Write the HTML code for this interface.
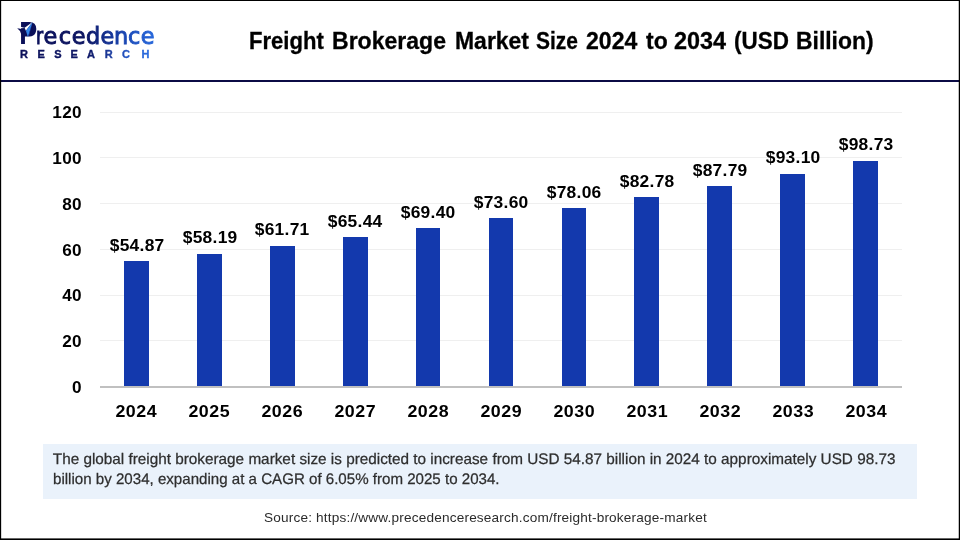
<!DOCTYPE html>
<html><head><meta charset="utf-8"><title>Freight Brokerage Market Size 2024 to 2034</title>
<style>
html,body{margin:0;padding:0;background:#fff;}
body{width:960px;height:540px;position:relative;overflow:hidden;font-family:"Liberation Sans",sans-serif;color:#000;}
.abs{position:absolute;}
.bt{position:absolute;left:0;top:0;width:960px;height:1px;background:#000;}
.bl{position:absolute;left:0;top:0;width:1px;height:540px;background:#000;}
.bl2{position:absolute;left:1px;top:0;width:1px;height:540px;background:rgba(0,0,0,.15);}
.br{position:absolute;left:959px;top:0;width:1px;height:540px;background:#000;}
.br2{position:absolute;left:958px;top:0;width:1px;height:540px;background:rgba(0,0,0,.25);}
.bb{position:absolute;left:0;top:539px;width:960px;height:1px;background:#000;}
.bb2{position:absolute;left:0;top:538px;width:960px;height:1px;background:rgba(0,0,0,.6);}
.hr{position:absolute;left:0;top:80px;width:960px;height:2px;background:#0b0b45;}
.tw{position:absolute;white-space:nowrap;font-weight:bold;-webkit-text-stroke:0.3px #000;font-size:23.2px;line-height:30px;height:30px;transform-origin:0 50%;}
.grid{position:absolute;left:100px;width:802px;height:1px;background:#efefef;}
.axis{position:absolute;left:100px;width:802px;height:2px;background:#c0c0c0;}
.yl{position:absolute;left:22px;width:60px;height:20px;line-height:20px;text-align:right;font-weight:bold;font-size:15.8px;letter-spacing:0.3px;margin-right:-0.3px;transform-origin:100% 50%;transform:scaleX(1.087);}
.bar{position:absolute;width:24.7px;background:#1339ad;}
.vl{position:absolute;width:80px;height:20px;line-height:20px;text-align:center;font-weight:bold;font-size:16.0px;letter-spacing:0.25px;text-indent:0.25px;white-space:nowrap;transform:scaleX(1.087);}
.xl{position:absolute;top:401px;width:80px;height:20px;line-height:20px;text-align:center;font-weight:bold;font-size:16.4px;letter-spacing:0.48px;text-indent:0.48px;white-space:nowrap;transform:scaleX(1.087);}
.note{position:absolute;left:43.2px;top:444.4px;width:873.6px;height:54.3px;background:#eaf2fb;}
.nt{position:absolute;left:52.8px;white-space:nowrap;font-size:15.3px;line-height:20px;height:20px;color:#2e2e2e;text-rendering:geometricPrecision;-webkit-text-stroke:0.25px #2e2e2e;transform-origin:0 50%;}
.src{position:absolute;left:264.2px;top:509px;white-space:nowrap;font-size:12.6px;letter-spacing:0.16px;transform:scaleX(1.081);line-height:18px;height:18px;color:#2b2b2b;transform-origin:0 50%;}
</style></head><body>
<svg class="abs" style="left:0;top:0" width="200" height="80" viewBox="0 0 200 80">
<defs>
<linearGradient id="g1" gradientUnits="userSpaceOnUse" x1="17" y1="0" x2="154" y2="0">
<stop offset="0" stop-color="#0b0f58"/><stop offset="0.5" stop-color="#0c1562"/><stop offset="0.62" stop-color="#122a86"/><stop offset="0.8" stop-color="#1b49b6"/><stop offset="1" stop-color="#2768dc"/>
</linearGradient>
<linearGradient id="g2" gradientUnits="userSpaceOnUse" x1="17" y1="0" x2="154" y2="0">
<stop offset="0" stop-color="#0b0f58"/><stop offset="0.52" stop-color="#0e1866"/><stop offset="0.68" stop-color="#1d3c9e"/><stop offset="0.82" stop-color="#2458c8"/><stop offset="1" stop-color="#2d72e6"/>
</linearGradient>
</defs>

<text y="43.9" fill="url(#g1)"><tspan x="19.3" font-family="Liberation Sans, sans-serif" font-size="30.8" font-weight="bold" textLength="17.97" lengthAdjust="spacingAndGlyphs">P</tspan><tspan x="35.9" font-family="DejaVu Sans, sans-serif" font-size="22.4" stroke="url(#g1)" stroke-width="0.9" textLength="7.2" lengthAdjust="spacingAndGlyphs">r</tspan><tspan x="43.6 58.7 71.7 85.9 100.5 113.9 127.9 140.8" font-family="DejaVu Sans, sans-serif" font-size="22.4" stroke="url(#g1)" stroke-width="0.9">ecedence</tspan></text>
<path d="M24.5 24.5 H33 V35 H24.5 Z" fill="#0b0f58"/>
<path d="M17.2 28.3 L25 29.4 L25 33.5 L21.3 34.5 Q20.6 30.6 17.2 28.3 Z" fill="#0b0f58"/>
<path d="M32.6 22 L24.6 27.8 L25.9 30.7 Z" fill="#ffffff"/>
<path d="M20.3 26.7 L25.0 28.0 L20.3 28.2 Z" fill="#ffffff"/>
<path d="M32.6 22 L25.9 30.7 L27.9 36.9 Z" fill="#3486ea"/>
<path d="M32.6 22 L27.9 36.9 L29.3 34.3 Z" fill="#1c4dbc"/>

<text y="57.6" x="19.9 37.6 54.2 70.5 87.0 104.8 122.0 141.4" font-family="Liberation Sans, sans-serif" font-size="11" font-weight="bold" fill="url(#g2)" stroke="url(#g2)" stroke-width="0.35">RESEARCH</text>
</svg>
<div class="titlewrap"><span class="tw" style="left:249.05px;top:26.4px;transform:scaleX(0.9513)">Freight</span> <span class="tw" style="left:332.26px;top:26.4px;transform:scaleX(0.9934)">Brokerage</span> <span class="tw" style="left:454.51px;top:26.4px;transform:scaleX(0.9899)">Market</span> <span class="tw" style="left:536.40px;top:26.4px;transform:scaleX(0.9044)">Size</span> <span class="tw" style="left:585.81px;top:26.4px;transform:scaleX(0.9941)">2024</span> <span class="tw" style="left:645.50px;top:26.4px;transform:scaleX(0.9881)">to</span> <span class="tw" style="left:674.49px;top:26.4px;transform:scaleX(1.0098)">2034</span> <span class="tw" style="left:734.03px;top:26.4px;transform:scaleX(0.9682)">(USD</span> <span class="tw" style="left:796.01px;top:26.4px;transform:scaleX(0.9868)">Billion)</span></div>
<div class="hr"></div>
<div class="grid" style="top:112.00px"></div>
<div class="grid" style="top:157.07px"></div>
<div class="grid" style="top:203.33px"></div>
<div class="grid" style="top:249.00px"></div>
<div class="grid" style="top:294.67px"></div>
<div class="grid" style="top:340.33px"></div>
<div class="yl" style="top:102.90px">120</div>
<div class="yl" style="top:149.37px">100</div>
<div class="yl" style="top:195.03px">80</div>
<div class="yl" style="top:240.70px">60</div>
<div class="yl" style="top:286.37px">40</div>
<div class="yl" style="top:332.03px">20</div>
<div class="yl" style="top:377.70px">0</div>
<div class="bar" style="left:124.10px;top:261.21px;height:124.79px"></div>
<div class="vl" style="left:96.65px;top:235.81px">$54.87</div>
<div class="xl" style="left:96.45px">2024</div>
<div class="bar" style="left:197.01px;top:253.63px;height:132.37px"></div>
<div class="vl" style="left:169.56px;top:228.23px">$58.19</div>
<div class="xl" style="left:169.36px">2025</div>
<div class="bar" style="left:269.92px;top:245.60px;height:140.40px"></div>
<div class="vl" style="left:242.47px;top:220.20px">$61.71</div>
<div class="xl" style="left:242.27px">2026</div>
<div class="bar" style="left:342.83px;top:237.08px;height:148.92px"></div>
<div class="vl" style="left:315.38px;top:211.68px">$65.44</div>
<div class="xl" style="left:315.18px">2027</div>
<div class="bar" style="left:415.74px;top:228.04px;height:157.96px"></div>
<div class="vl" style="left:388.29px;top:202.64px">$69.40</div>
<div class="xl" style="left:388.09px">2028</div>
<div class="bar" style="left:488.65px;top:218.45px;height:167.55px"></div>
<div class="vl" style="left:461.20px;top:193.05px">$73.60</div>
<div class="xl" style="left:461.00px">2029</div>
<div class="bar" style="left:561.56px;top:208.26px;height:177.74px"></div>
<div class="vl" style="left:534.11px;top:182.86px">$78.06</div>
<div class="xl" style="left:533.91px">2030</div>
<div class="bar" style="left:634.47px;top:197.49px;height:188.51px"></div>
<div class="vl" style="left:607.02px;top:172.09px">$82.78</div>
<div class="xl" style="left:606.82px">2031</div>
<div class="bar" style="left:707.38px;top:186.05px;height:199.95px"></div>
<div class="vl" style="left:679.93px;top:160.65px">$87.79</div>
<div class="xl" style="left:679.73px">2032</div>
<div class="bar" style="left:780.29px;top:173.92px;height:212.08px"></div>
<div class="vl" style="left:752.84px;top:147.52px">$93.10</div>
<div class="xl" style="left:752.64px">2033</div>
<div class="bar" style="left:853.20px;top:161.07px;height:224.93px"></div>
<div class="vl" style="left:825.75px;top:134.67px">$98.73</div>
<div class="xl" style="left:825.55px">2034</div>
<div class="axis" style="top:386px"></div>
<div class="note"></div>
<div class="nt" id="n1" style="top:449.55px;transform:scaleX(1.0)">The global freight brokerage market size is predicted to increase from USD 54.87 billion in 2024 to approximately USD 98.73</div>
<div class="nt" id="n2" style="top:469.55px;transform:scaleX(0.987)">billion by 2034, expanding at a CAGR of 6.05% from 2025 to 2034.</div>
<div class="src" id="src">Source: https://www.precedenceresearch.com/freight-brokerage-market</div>
<div class="bt"></div><div class="bl"></div><div class="bl2"></div><div class="br"></div><div class="br2"></div><div class="bb"></div><div class="bb2"></div>
</body></html>
